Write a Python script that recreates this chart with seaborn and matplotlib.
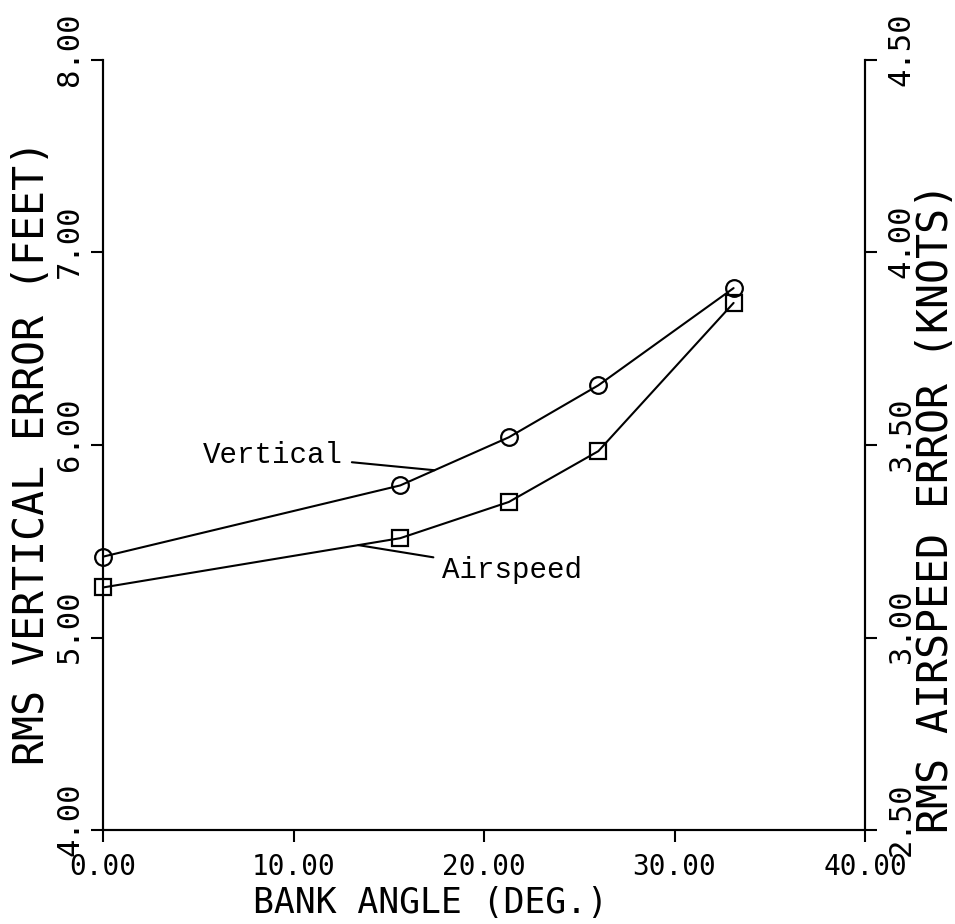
import numpy as np
import pandas as pd
import matplotlib
matplotlib.use("Agg")
import matplotlib.pyplot as plt
import matplotlib.transforms as mtransforms
import seaborn as sns

# ---- data ----
bank_angle = [0.0, 15.6, 21.3, 26.0, 33.1]
vertical_err = [5.42, 5.79, 6.04, 6.31, 6.815]      # feet (left axis)
airspeed_err = [3.13, 3.258, 3.352, 3.484, 3.869]   # knots (right axis)

x_ticks = [0, 10, 20, 30, 40]
left_ticks = [4, 5, 6, 7, 8]
right_ticks = [2.5, 3.0, 3.5, 4.0, 4.5]

sns.set_theme(style="ticks")
plt.rcParams["font.family"] = ["DejaVu Sans Mono", "DejaVu Sans"]
plt.rcParams["axes.linewidth"] = 1.5
for k in ("text.color", "axes.labelcolor", "xtick.color", "ytick.color", "axes.edgecolor"):
    plt.rcParams[k] = "black"

fig = plt.figure(figsize=(9.55, 9.24), dpi=100)
ax = fig.add_axes([0.1079, 0.1017, 0.7979, 0.8334])
ax2 = ax.twinx()

df = pd.DataFrame({"bank": bank_angle, "vert": vertical_err, "air": airspeed_err})

line_kw = dict(color="black", linewidth=1.5, markersize=12,
               markerfacecolor="none", markeredgecolor="black",
               markeredgewidth=1.6, clip_on=False)
sns.lineplot(data=df, x="bank", y="vert", ax=ax, marker="o", **line_kw)
sns.lineplot(data=df, x="bank", y="air", ax=ax2, marker="s", **line_kw)

ax.set_xlim(0, 40)
ax.set_ylim(4, 8)
ax2.set_ylim(2.5, 4.5)

ax.set_xticks(x_ticks)
ax.set_xticklabels([f"{v:.2f}" for v in x_ticks])
ax.set_yticks(left_ticks)
ax.set_yticklabels([f"{v:.2f}" for v in left_ticks])
ax2.set_yticks(right_ticks)
ax2.set_yticklabels([f"{v:.2f}" for v in right_ticks])

for a in (ax, ax2):
    a.spines["top"].set_visible(False)
    for s in a.spines.values():
        s.set_linewidth(1.5)
        s.set_color("black")
    a.tick_params(length=8.5, width=1.5, colors="black")

ax.tick_params(axis="x", labelsize=20, pad=8)
ax.tick_params(axis="y", labelrotation=90, labelsize=22, pad=5)
ax2.tick_params(axis="y", labelrotation=90, labelsize=22, pad=7)

ax.set_xlabel("BANK ANGLE (DEG.)", fontsize=25, va="center", ha="center")
ax.set_ylabel("RMS VERTICAL ERROR (FEET)", fontsize=30, va="center", ha="center")
ax2.set_ylabel("RMS AIRSPEED ERROR (KNOTS)", fontsize=30, rotation=90, va="center", ha="center")
ax.xaxis.set_label_coords(0.43, -0.095)
ax.yaxis.set_label_coords(-0.093, 0.49)
ax2.yaxis.set_label_coords(1.093, 0.418)

# ---- callouts ----
ann_font = dict(family=["Liberation Mono", "DejaVu Sans Mono"], fontsize=21, color="black")
vx = 17.4
ax.annotate("Vertical", xy=(vx, np.interp(vx, bank_angle, vertical_err)),
            xytext=(12.6, 5.95), ha="right", va="center",
            arrowprops=dict(arrowstyle="-", color="black", lw=1.5, shrinkA=4, shrinkB=0),
            **ann_font)
axx = 13.4
ax2.annotate("Airspeed", xy=(axx, np.interp(axx, bank_angle, airspeed_err)),
             xytext=(17.8, 3.175), ha="left", va="center",
             arrowprops=dict(arrowstyle="-", color="black", lw=1.5, shrinkA=4, shrinkB=0),
             **ann_font)

# y tick labels sit slightly above their ticks in the reference
shift = mtransforms.ScaledTranslation(0, 11 / 100, fig.dpi_scale_trans)
for t in ax.get_yticklabels() + ax2.get_yticklabels():
    t.set_va("center")
    t.set_transform(t.get_transform() + shift)

fig.savefig("out.png", dpi=100, facecolor="white")
